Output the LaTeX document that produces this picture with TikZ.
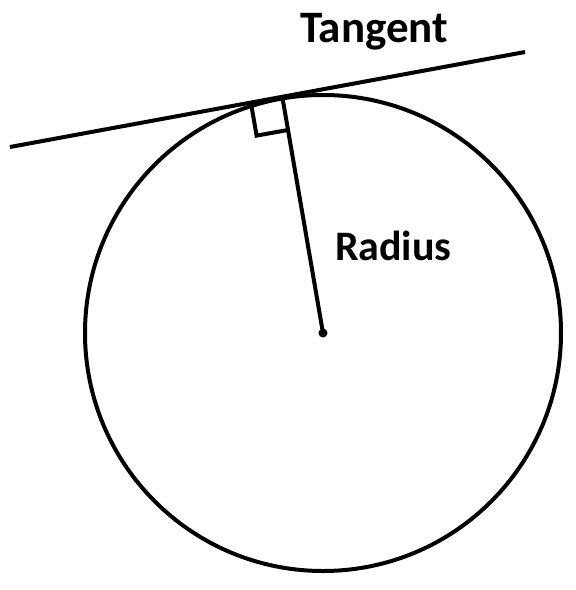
\documentclass[tikz,border=0pt]{standalone}
\usepackage{fontspec}
\setmainfont{Carlito}
\begin{document}
\begin{tikzpicture}[x=1pt,y=-1pt,line width=4pt,
  lbl/.style={font=\bfseries\fontsize{43}{50}\selectfont,anchor=base west,inner sep=0pt}]
\useasboundingbox (0,0) rectangle (576,590);
\coordinate (O) at (323,333);
\coordinate (P) at (282.6,98.5);
\coordinate (T1) at (10,147);
\coordinate (T2) at (525,52);
\coordinate (A) at (288.0,130.0);
\coordinate (B) at (256.6,135.6);
\coordinate (C) at (251.1,103.9);
\draw (O) circle[radius=238];
\draw (T1) -- (T2);
\draw (O) -- (P);
\draw (A) -- (B) -- (C);
\fill (O) circle[radius=4.5];
\node[lbl,font=\bfseries\fontsize{45}{52}\selectfont] (tangent) at (298,42) {Tangent};
\node[lbl,font=\bfseries\fontsize{42}{50}\selectfont] (radius) at (333,260) {Radius};
\end{tikzpicture}
\end{document}
